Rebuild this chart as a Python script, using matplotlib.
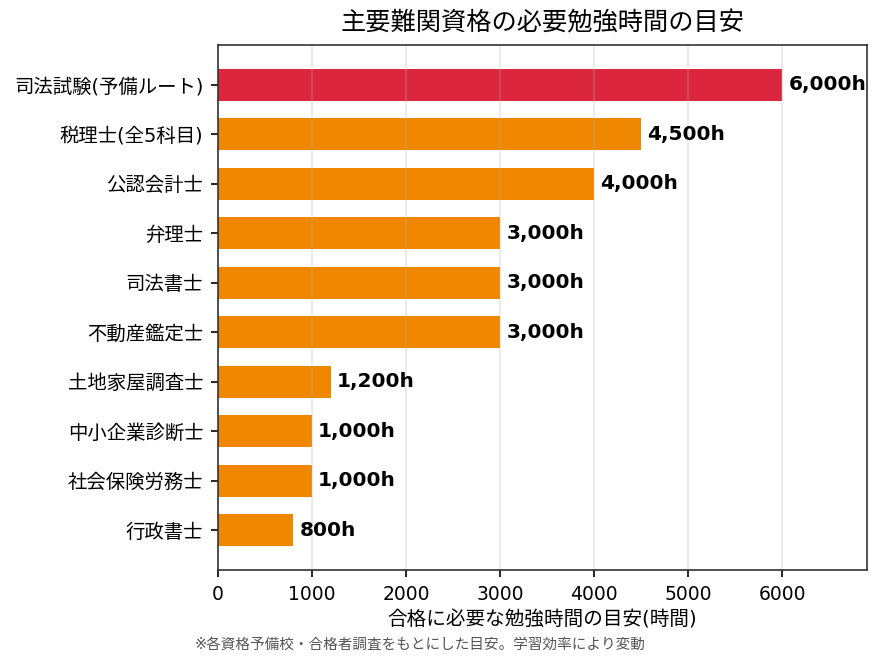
import matplotlib
matplotlib.use('Agg')
import matplotlib.pyplot as plt

plt.rcParams['font.family'] = ['DejaVu Sans', 'Noto Sans CJK JP']

# data (top to bottom as shown)
quals = ['司法試験(予備ルート)', '税理士(全5科目)', '公認会計士', '弁理士', '司法書士',
         '不動産鑑定士', '土地家屋調査士', '中小企業診断士', '社会保険労務士', '行政書士']
hours = [6000, 4500, 4000, 3000, 3000, 3000, 1200, 1000, 1000, 800]
colors = ['#DC263E'] + ['#EF8800'] * 9

fig = plt.figure(figsize=(882 / 150, 667 / 150), dpi=150)
ax = fig.add_axes([0.247, 0.1454, 0.736, 0.7871])

# reverse so the first item sits on top
bars = ax.barh(quals[::-1], hours[::-1], color=colors[::-1], height=0.65)
labels = [f'{h:,}h' for h in hours[::-1]]
ax.bar_label(bars, labels=labels, padding=3, fontsize=9.7, fontweight='bold')

ax.set_xlim(0, max(hours) * 1.15)
ax.grid(axis='x', alpha=0.3)
ax.tick_params(axis='y', labelsize=9.3)
ax.tick_params(axis='x', labelsize=9)
for s in ax.spines.values():
    s.set_color('#333333')

ax.set_title('主要難関資格の必要勉強時間の目安', fontsize=12.1, pad=7)
ax.set_xlabel('合格に必要な勉強時間の目安(時間)', fontsize=9.4, labelpad=3)
fig.text(0.476, 0.034, '※各資格予備校・合格者調査をもとにした目安。学習効率により変動',
         ha='center', va='center', fontsize=7, color='#555555')

fig.savefig('out.png', dpi=150)
